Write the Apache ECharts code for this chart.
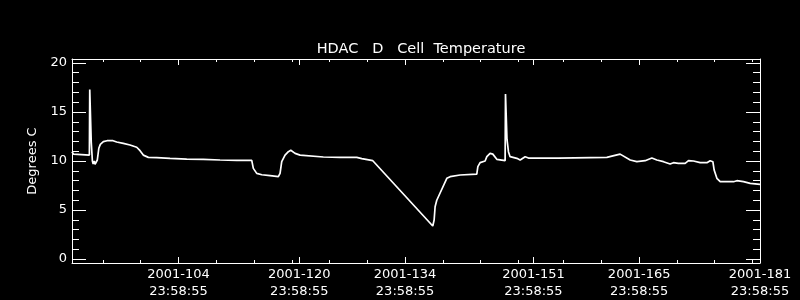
<!DOCTYPE html>
<html>
<head>
<meta charset="utf-8">
<script src="https://cdn.jsdelivr.net/npm/echarts@6/dist/echarts.min.js"></script>
<style>
html,body{margin:0;padding:0;background:#000;}
#c{width:800px;height:300px;}
</style>
</head>
<body>
<div id="c"></div>
<script>
// Day-of-year (2001) with fractional part, temperature in degrees C
const days = [90.9,91.1,91.3,93.2,93.25,93.4,93.45,93.5,93.6,93.7,93.85,93.95,94.1,94.25,94.45,94.65,95.05,95.54,96.33,96.82,97.69,98.58,99.47,99.91,100.34,101.01,102.12,103.88,106.09,108.29,110.5,112.71,114.7,114.91,115.36,116.03,117.13,118.22,118.45,118.67,119.11,119.55,119.87,120.44,121.1,121.32,124.18,126.4,128.61,129.27,130.73,138.67,138.85,138.98,139.2,140.53,140.97,142.29,144.5,144.64,144.94,145.6,145.83,146.26,146.62,147.15,148.25,148.3,148.45,148.5,148.6,148.69,148.91,149.8,150.24,150.9,151.34,155.31,161.72,162.38,163.48,164.81,165.69,166.79,167.68,168.34,169.22,170.1,170.54,171.2,172.09,172.53,173.19,174.08,174.97,175.4,175.76,175.93,176.29,176.73,178.49,178.94,179.81,180.7,182.0];
const temps = [10.95,10.7,10.6,10.6,17.3,17.2,11.9,11.9,10.0,9.7,10.0,9.66,9.8,10.1,11.3,11.7,11.97,12.07,12.07,11.94,11.8,11.63,11.4,11.05,10.6,10.37,10.34,10.27,10.2,10.17,10.1,10.07,10.07,9.25,8.74,8.6,8.5,8.4,8.74,9.93,10.6,10.95,11.09,10.78,10.6,10.44,10.41,10.37,10.37,10.24,10.03,3.37,3.98,5.34,6.0,8.23,8.4,8.57,8.67,9.42,9.83,10.0,10.44,10.78,10.7,10.17,10.03,16.84,16.84,12.2,12.2,10.95,10.44,10.27,10.1,10.44,10.3,10.3,10.37,10.5,10.7,10.1,9.93,10.03,10.3,10.1,9.93,9.69,9.83,9.76,9.76,10.03,10.0,9.83,9.83,10.03,9.93,9.08,8.23,7.89,7.89,7.99,7.89,7.72,7.62];

const xMajorTicks = [104.99925,120.99925,134.99925,151.99925,165.99925,181.99925];
const xTickLabels = ['2001-104\n23:58:55','2001-120\n23:58:55','2001-134\n23:58:55','2001-151\n23:58:55','2001-165\n23:58:55','2001-181\n23:58:55'];
const xMinorTicks = [95,100,110,115,120,125,130,140,145,150,156,161,171,176,181];
const yMajorTicks = [0,5,10,15,20];
const yTickLabels = ['0','5','10','15','20'];
const yMinorTicks = [1,2,3,4,6,7,8,9,11,12,13,14,16,17,18,19];

const X_MIN = 90.9, X_MAX = 182.0, Y_MIN = -0.4, Y_MAX = 20.4;
const FONT = 'DejaVu Sans';
const W = '#ffffff';

function nearestLabel(v, ticks, labels){
  let bi = 0, bd = Infinity;
  ticks.forEach((t,i)=>{const d=Math.abs(t-v); if(d<bd){bd=d;bi=i;}});
  return labels[bi];
}

function xAx(pos, ticks, len, showLine, showLabel){
  return {
    type:'value', position:pos, min:X_MIN, max:X_MAX,
    axisLine:{show:showLine, onZero:false, lineStyle:{color:W,width:1}},
    axisTick:{show:true, inside:true, length:len, customValues:ticks, lineStyle:{color:W,width:1}},
    axisLabel:showLabel ? {show:true, customValues:ticks, color:W, fontFamily:FONT, fontSize:13, lineHeight:17, margin:3,
      formatter:(v)=>nearestLabel(v, xMajorTicks, xTickLabels)} : {show:false},
    splitLine:{show:false}
  };
}
function yAx(pos, ticks, len, showLine, showLabel, name){
  const a = {
    type:'value', position:pos, min:Y_MIN, max:Y_MAX,
    axisLine:{show:showLine, onZero:false, lineStyle:{color:W,width:1}},
    axisTick:{show:true, inside:true, length:len, customValues:ticks, lineStyle:{color:W,width:1}},
    axisLabel:showLabel ? {show:true, customValues:ticks, color:W, fontFamily:FONT, fontSize:13, margin:5,
      formatter:(v)=>nearestLabel(v, yMajorTicks, yTickLabels)} : {show:false},
    splitLine:{show:false}
  };
  if(name){
    a.name = name; a.nameLocation='middle'; a.nameRotate=90; a.nameGap=30;
    a.nameTextStyle={color:W, fontFamily:FONT, fontSize:13};
  }
  return a;
}

const chart = echarts.init(document.getElementById('c'), null, {renderer:'canvas'});
chart.setOption({
  backgroundColor:'#000000',
  animation:false,
  title:{text:'HDAC   D   Cell  Temperature', left:416, top:37, textAlign:'center',
    textStyle:{color:W, fontFamily:FONT, fontSize:14.5, fontWeight:'normal'}},
  grid:{left:72, right:40, top:59, bottom:37, containLabel:false},
  xAxis:[
    xAx('bottom', xMajorTicks, 6, true, true),
    xAx('bottom', xMinorTicks, 3, false, false),
    xAx('top', xMajorTicks, 6, true, false),
    xAx('top', xMinorTicks, 3, false, false)
  ],
  yAxis:[
    yAx('left', yMajorTicks, 14, true, true, 'Degrees C'),
    yAx('left', yMinorTicks, 7, false, false),
    yAx('right', yMajorTicks, 14, true, false),
    yAx('right', yMinorTicks, 7, false, false)
  ],
  series:[{
    type:'line', xAxisIndex:0, yAxisIndex:0,
    data: days.map((d,i)=>[d, temps[i]]),
    showSymbol:false, symbol:'none',
    lineStyle:{color:W, width:1.7},
    clip:true
  }]
});
</script>
</body>
</html>
